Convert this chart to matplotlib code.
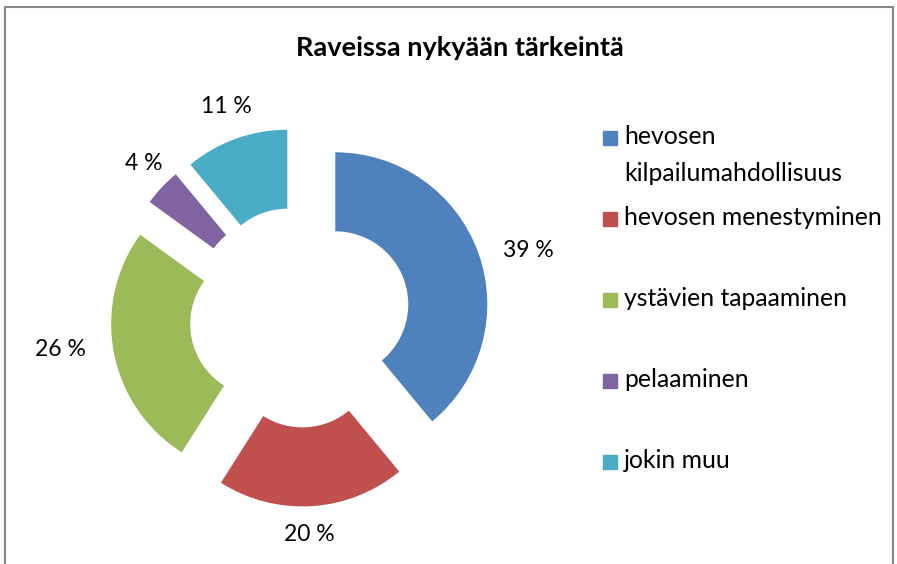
import matplotlib
matplotlib.use('Agg')
import matplotlib.pyplot as plt
from matplotlib.patches import Rectangle

# data
categories = ['hevosen\nkilpailumahdollisuus', 'hevosen menestyminen',
              'ystävien tapaaminen', 'pelaaminen', 'jokin muu']
shares = [39, 20, 26, 4, 11]
colors = ['#4F81BD', '#C0504D', '#9BBB59', '#8064A2', '#4BACC6']
title = 'Raveissa nykyään tärkeintä'

W, H = 897, 564
plt.rcParams['font.family'] = ['Lato', 'DejaVu Sans']

fig = plt.figure(figsize=(W / 100, H / 100), dpi=100)
ax = fig.add_axes([0, 0, 1, 1])

# chart border
ax.add_patch(Rectangle((5, -10), 888, H - 7 + 10, fill=False,
                       edgecolor='#868686', linewidth=1.5))

R = 152
wedges, texts, autotexts = ax.pie(
    shares, colors=colors, startangle=90, counterclock=False,
    radius=R, center=(300, H - 317), explode=[37.5] * len(shares),
    wedgeprops=dict(width=R * 0.52, linewidth=0),
    autopct=lambda p: '%d %%' % round(p), pctdistance=1.27,
    textprops=dict(fontsize=16.5, color='black'), frame=True)
ax.set_xlim(0, W)
ax.set_ylim(0, H)
ax.set_aspect('equal')
ax.axis('off')

# small nudges so the labels sit where Excel put them
nudges = [(11, -12), (-5, 13), (-13, 11), (12, -4), (4, -6)]
for t, (dx, dy) in zip(autotexts, nudges):
    x, y = t.get_position()
    t.set_position((x + dx, y + dy))

ax.text(460, H - 48, title, ha='center', va='center',
        fontsize=19.5, fontweight='bold')

# legend, handles evenly spaced like in Excel
for i, (lab, col) in enumerate(zip(categories, colors)):
    y = H - 138 - i * 81
    ax.add_patch(Rectangle((603, y - 7), 14, 14, color=col))
    ax.text(624, y + 13, lab, ha='left', va='top', fontsize=17.8,
            linespacing=1.75)

fig.savefig('out.png', dpi=100)
